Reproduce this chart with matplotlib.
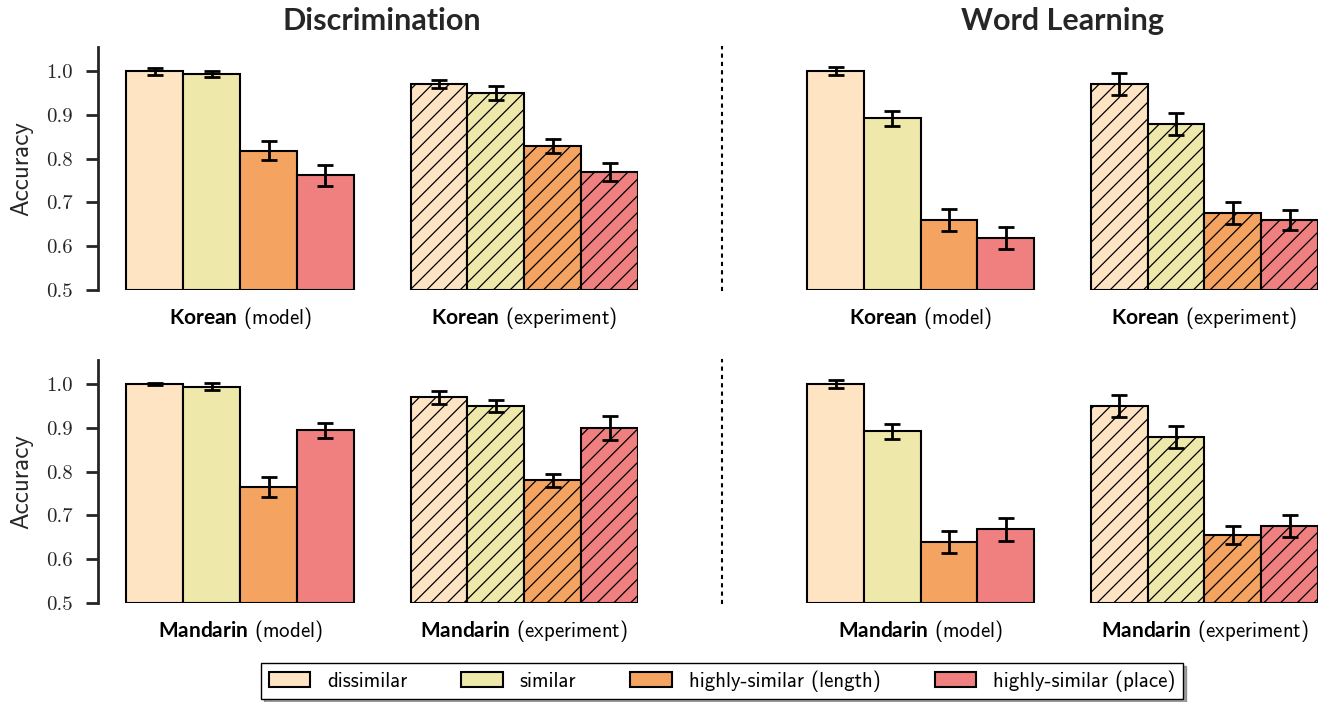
"""
Accuracy per contrast type for discrimination and word learning.
"""

import matplotlib.pyplot as plt
from matplotlib.patches import Patch

categories = ['dissimilar', 'similar', 'highly-similar (length)', 'highly-similar (place)']
bar_colors = ['bisque', 'palegoldenrod', 'sandybrown', 'lightcoral']
y_ticks = [0.5, 0.6, 0.7, 0.8, 0.9, 1.0]

# discrimination
disc_korean_model = [1.000, 0.994, 0.818, 0.762]
disc_korean_model_err = [0.008, 0.007, 0.022, 0.024]
disc_korean_exp = [0.970, 0.950, 0.830, 0.770]
disc_korean_exp_err = [0.009, 0.015, 0.016, 0.020]
disc_mandarin_model = [1.000, 0.994, 0.765, 0.894]
disc_mandarin_model_err = [0.002, 0.008, 0.023, 0.018]
disc_mandarin_exp = [0.970, 0.950, 0.780, 0.900]
disc_mandarin_exp_err = [0.015, 0.014, 0.014, 0.027]

# word learning
word_korean_model = [1.000, 0.892, 0.660, 0.618]
word_korean_model_err = [0.009, 0.017, 0.025, 0.025]
word_korean_exp = [0.970, 0.880, 0.675, 0.660]
word_korean_exp_err = [0.025, 0.025, 0.025, 0.023]
word_mandarin_model = [1.000, 0.892, 0.640, 0.668]
word_mandarin_model_err = [0.009, 0.017, 0.025, 0.026]
word_mandarin_exp = [0.950, 0.880, 0.655, 0.675]
word_mandarin_exp_err = [0.025, 0.025, 0.021, 0.025]

plt.rcParams['font.family'] = 'cmss10'
plt.rcParams['mathtext.fontset'] = 'custom'
plt.rcParams['mathtext.bf'] = 'Lato:bold'
plt.rcParams['hatch.linewidth'] = 0.9
plt.rcParams['axes.unicode_minus'] = False

BAR_W = 0.2
OFFSETS = [-0.3, -0.1, 0.1, 0.3]


def draw_panel(ax, language, model, model_err, exp, exp_err, left_axis):
    for group, (vals, errs, hatch) in enumerate(
            [(model, model_err, None), (exp, exp_err, '//')]):
        for i in range(4):
            ax.bar(group + OFFSETS[i], vals[i] - 0.5, bottom=0.5, width=BAR_W,
                   color=bar_colors[i], edgecolor='black', linewidth=1.5,
                   hatch=hatch, zorder=2)
            ax.errorbar(group + OFFSETS[i], vals[i], yerr=errs[i], fmt='none',
                        ecolor='black', elinewidth=2, capsize=6, capthick=2,
                        zorder=3)

    ax.set_ylim(0.5, 1.055)
    ax.set_xticks([0, 1])
    ax.set_xticklabels([r'$\mathbf{%s}$ (model)' % language,
                        r'$\mathbf{%s}$ (experiment)' % language],
                       fontsize=15)
    ax.tick_params(axis='x', length=0, pad=11)
    for side in ['top', 'right', 'bottom']:
        ax.spines[side].set_visible(False)

    if left_axis:
        ax.set_xlim(-0.5, 1.4)
        ax.spines['left'].set_color('#262626')
        ax.spines['left'].set_linewidth(2.0)
        ax.set_yticks(y_ticks)
        ax.set_yticklabels(['%.1f' % t for t in y_ticks])
        ax.tick_params(axis='y', direction='out', length=9, width=2.0,
                       color='#262626', labelsize=15, labelfontfamily='cmr10',
                       labelcolor='#262626', pad=9)
        ax.set_ylabel('Accuracy', fontsize=18, color='#262626')
        ax.yaxis.set_label_coords(-0.12, 0.5)
    else:
        ax.set_xlim(-0.7, 1.4)
        ax.spines['left'].set_linestyle((0, (1, 3)))
        ax.spines['left'].set_linewidth(1.5)
        ax.set_yticks([])


def main():
    fig = plt.figure(figsize=(13.23, 7.02), dpi=100)
    W, H = 1323.0, 702.0

    ax_dk = fig.add_axes([98 / W, 1 - 290 / H, 540 / W, 243 / H])
    ax_wk = fig.add_axes([722 / W, 1 - 290 / H, 596 / W, 243 / H])
    ax_dm = fig.add_axes([98 / W, 1 - 603 / H, 540 / W, 243 / H])
    ax_wm = fig.add_axes([722 / W, 1 - 603 / H, 596 / W, 243 / H])

    draw_panel(ax_dk, 'Korean', disc_korean_model, disc_korean_model_err,
               disc_korean_exp, disc_korean_exp_err, True)
    draw_panel(ax_wk, 'Korean', word_korean_model, word_korean_model_err,
               word_korean_exp, word_korean_exp_err, False)
    draw_panel(ax_dm, 'Mandarin', disc_mandarin_model, disc_mandarin_model_err,
               disc_mandarin_exp, disc_mandarin_exp_err, True)
    draw_panel(ax_wm, 'Mandarin', word_mandarin_model, word_mandarin_model_err,
               word_mandarin_exp, word_mandarin_exp_err, False)

    for ax, title in [(ax_dk, 'Discrimination'), (ax_wk, 'Word Learning')]:
        ax.text(0.5, 1.05, title, transform=ax.get_xaxis_transform(),
                ha='center', va='bottom', fontsize=22, fontfamily='Lato',
                fontweight='bold', color='#262626')

    handles = [Patch(facecolor=c, edgecolor='black', linewidth=1.5)
               for c in bar_colors]
    leg = fig.legend(handles, categories, loc='center', ncol=4,
                     bbox_to_anchor=(722 / W, 1 - 681 / H), fontsize=15,
                     frameon=True, fancybox=False, shadow=True,
                     handlelength=2.0, handleheight=0.8, columnspacing=2.6,
                     borderpad=0.35)
    leg.get_frame().set_edgecolor('black')
    leg.get_frame().set_linewidth(1.0)

    fig.savefig('out.png', dpi=100)


if __name__ == '__main__':
    main()
